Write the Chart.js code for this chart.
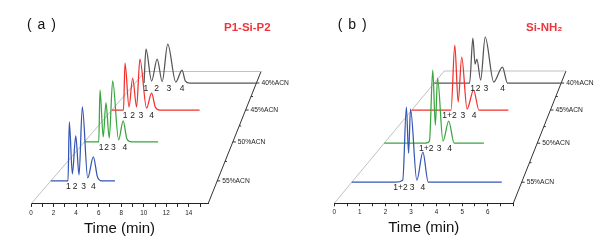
<!DOCTYPE html>
<html>
<head>
<meta charset="utf-8">
<script src="https://cdn.jsdelivr.net/npm/chart.js@4.4.1/dist/chart.umd.min.js"></script>
<style>
  body { margin: 0; background: #fff; }
  .wrap { display: flex; width: 612px; height: 245px; }
  canvas { display: block; }
</style>
</head>
<body>
<div class="wrap">
  <canvas id="chartA" width="306" height="245"></canvas>
  <canvas id="chartB" width="306" height="245"></canvas>
</div>
<script>
const depthLabels = ['55%ACN', '50%ACN', '45%ACN', '40%ACN'];

// (a) P1-Si-P2 : retention time (min) / detector signal (a.u.)
const aTime55 = [0, 1.62, 1.74, 2.03, 2.35, 2.66, 2.97, 3.48, 4.01, 4.4, 4.8, 6.05];
const aSig55  = [0, 0, 59, 7, 45, 6, 74, 3, 24, 4, 0, 0];
const aTime50 = [0, 1.52, 1.65, 1.99, 2.28, 2.63, 2.99, 3.62, 4.10, 4.5, 5.0, 7.8];
const aSig50  = [0, 0, 52, 5, 39, 4, 61, 2, 21, 3, 0, 0];
const aTime45 = [0, 1.36, 1.54, 2.01, 2.44, 2.9, 3.29, 4.07, 4.66, 5.1, 5.6, 10.3];
const aSig45  = [0, 0, 47, 3, 32, 3, 51, 2, 17, 3, 0, 0];
const aTime40 = [1.15, 1.40, 2.13, 2.85, 3.5, 4.22, 5.26, 6.07, 6.5, 7.1, 15.7];
const aSig40  = [0, 34, 2, 24, 1.5, 39, 1, 13, 2, 0, 0];
const aPeakNames = [['1', '2', '3', '4'], ['1', '2', '3', '4'], ['1', '2', '3', '4'], ['1', '2', '3', '4']];
const aPeakTimes = [[1.65, 2.28, 3.1, 4.0], [1.76, 2.36, 3.06, 4.28], [1.54, 2.44, 3.41, 4.66], [1.40, 2.78, 4.37, 6.07]];

// (b) Si-NH2
const bTime55 = [0, 1.8, 2.1, 2.25, 2.34, 2.42, 2.68, 2.93, 3.15, 6.18];
const bSig55  = [0, 0, 2, 75, 29, 73, 2, 30, 0, 0];
const bTime50 = [0, 1.9, 2.07, 2.22, 2.34, 2.44, 2.69, 2.95, 3.2, 4.56];
const bSig50  = [0, 0, 2, 73, 18, 65, 2, 22, 0, 0];
const bTime45 = [0, 1.98, 2.17, 2.34, 2.52, 2.79, 3.12, 3.39, 4.88];
const bSig45  = [0, 0, 65, 8, 53, 1, 20, 0, 0];
const bTime40 = [0, 1.95, 2.13, 2.25, 2.35, 2.56, 2.81, 3.28, 3.76, 4.04, 7];
const bSig40  = [0, 0, 45, 19, 24, 3, 46, 1, 16, 0, 0];
const bPeakNames = [['1+2', '3', '4'], ['1+2', '3', '4'], ['1+2', '3', '4'], ['1', '2', '3', '4']];
const bPeakTimes = [[2.01, 2.49, 2.93], [1.92, 2.51, 2.99], [1.9, 2.58, 3.15], [2.11, 2.42, 2.84, 3.77]];

const traceColors = ['#3456b4', '#3aa53f', '#f2302e', '#555555'];
const FONT = '"Liberation Sans", Arial, sans-serif';

function drawPanel(id, p) {
  const g = p.geo;
  // oblique/perspective waterfall: depth d in 0..1 (front..back)
  const px = (t, d) => d * g.backLeft + t * (1 - d * (1 - g.backScale));
  const py = (h, d) => d * g.depthH + h;

  const datasets = p.times.map((times, i) => ({
    data: times.map((t, k) => ({ x: px(t, g.depths[i]), y: py(p.sigs[i][k], g.depths[i]) })),
    borderColor: traceColors[i],
    borderWidth: 1.25,
    pointRadius: 0,
    cubicInterpolationMode: 'monotone',
    clip: false
  }));
  datasets.push({
    data: [{ x: 0, y: 0 }, { x: px(0, 1), y: py(0, 1) }, { x: px(g.xMax, 1), y: py(0, 1) }],
    borderColor: '#b0b0b0', borderWidth: 0.8, pointRadius: 0, tension: 0, clip: false
  });
  datasets.push({
    data: [{ x: px(g.xMax, 1), y: py(0, 1) }, { x: g.xMax, y: 0 }],
    borderColor: '#333', borderWidth: 1, pointRadius: 0, tension: 0, clip: false
  });

  const extras = {
    id: 'extras',
    afterDatasetsDraw(chart) {
      const { ctx, scales: { x, y } } = chart;
      const X = (t, d) => x.getPixelForValue(px(t, d));
      const Y = (h, d) => y.getPixelForValue(py(h, d));
      ctx.save();
      ctx.strokeStyle = '#333';
      ctx.lineWidth = 1;
      ctx.fillStyle = '#222';
      ctx.textBaseline = 'middle';
      ctx.textAlign = 'left';
      ctx.font = '6.7px ' + FONT;
      g.depths.forEach((d, i) => {
        const ex = X(g.xMax, d), ey = Y(0, d);
        ctx.beginPath(); ctx.moveTo(ex, ey); ctx.lineTo(ex + 3, ey); ctx.stroke();
        ctx.fillText(depthLabels[i], ex + 5, ey);
        if (i < g.depths.length - 1) {
          const dm = (d + g.depths[i + 1]) / 2;
          const mx = X(g.xMax, dm), my = Y(0, dm);
          ctx.beginPath(); ctx.moveTo(mx, my); ctx.lineTo(mx + 2, my); ctx.stroke();
        }
      });
      ctx.textAlign = 'center';
      ctx.font = '8.5px ' + FONT;
      p.names.forEach((names, i) => {
        names.forEach((n, k) => {
          ctx.fillText(n, X(p.labelTimes[i][k], g.depths[i]), Y(0, g.depths[i]) + 5.5);
        });
      });
      ctx.textAlign = 'left';
      ctx.font = '14px ' + FONT;
      ctx.fillStyle = '#111';
      ctx.letterSpacing = '1px';
      ctx.fillText(p.tag, g.tagX, 25);
      ctx.letterSpacing = '0px';
      ctx.font = 'bold 11.5px ' + FONT;
      ctx.fillStyle = '#f0343c';
      ctx.fillText(p.name, g.nameX, 27.5);
      ctx.restore();
    }
  };

  new Chart(document.getElementById(id), {
    type: 'line',
    data: { datasets },
    options: {
      responsive: false,
      animation: false,
      events: [],
      layout: { padding: { left: g.padLeft, right: g.padRight, top: g.padTop, bottom: g.padBottom } },
      plugins: { legend: { display: false }, tooltip: { enabled: false } },
      scales: {
        x: {
          type: 'linear',
          min: 0,
          max: g.xMax,
          border: { color: '#222', width: 1 },
          grid: { drawOnChartArea: false, drawTicks: true, tickLength: 3, color: '#222' },
          ticks: {
            stepSize: g.step,
            includeBounds: false,
            autoSkip: false,
            maxRotation: 0,
            padding: 2.5,
            color: '#222',
            font: { size: 6.3, family: FONT },
            callback: v => (Math.abs(v / g.labelEvery - Math.round(v / g.labelEvery)) < 1e-6 && v <= g.labelMax) ? String(v) : ''
          },
          title: {
            display: true,
            text: 'Time (min)',
            color: '#111',
            font: { size: 15, family: FONT },
            padding: { top: 0.5, bottom: 0 }
          }
        },
        y: { display: false, min: 0, max: 170 }
      }
    },
    plugins: [extras]
  });
}

drawPanel('chartA', {
  tag: '( a )', name: 'P1-Si-P2',
  times: [aTime55, aTime50, aTime45, aTime40],
  sigs: [aSig55, aSig50, aSig45, aSig40],
  names: aPeakNames, labelTimes: aPeakTimes,
  geo: { padLeft: 31, padRight: 98, padTop: 34, padBottom: 7, xMax: 15.7, backLeft: 10.12, backScale: 0.655,
         depthH: 132.5, depths: [0.174, 0.468, 0.709, 0.913], step: 1, labelEvery: 2, labelMax: 14, tagX: 27, nameX: 224 }
});

drawPanel('chartB', {
  tag: '( b )', name: 'Si-NH\u2082',
  times: [bTime55, bTime50, bTime45, bTime40],
  sigs: [bSig55, bSig50, bSig45, bSig40],
  names: bPeakNames, labelTimes: bPeakTimes,
  geo: { padLeft: 28.3, padRight: 98.7, padTop: 33.3, padBottom: 7.7, xMax: 7, backLeft: 4.30, backScale: 0.68,
         depthH: 132.3, depths: [0.159, 0.454, 0.705, 0.909], step: 0.5, labelEvery: 1, labelMax: 6, tagX: 31.7, nameX: 220 }
});
</script>
</body>
</html>
